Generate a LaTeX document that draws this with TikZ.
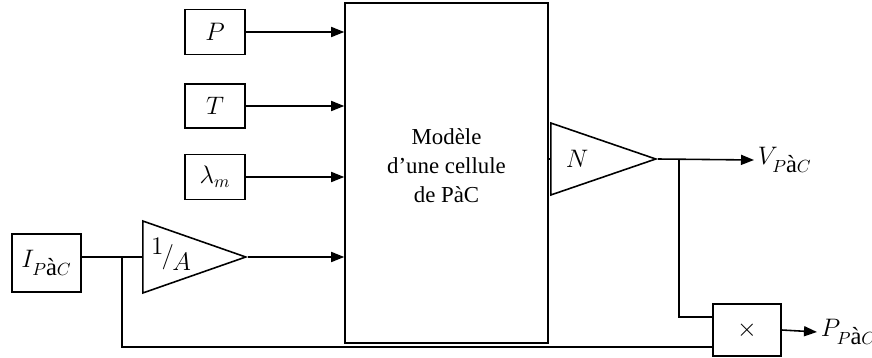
\documentclass[tikz,border=0pt]{standalone}
\usepackage{fontspec}
\setmainfont{Liberation Serif}
\usepackage{tikz}
\usetikzlibrary{arrows.meta,positioning,calc,shapes.geometric}
\tikzset{
  blk/.style={draw, line width=0.9pt, inner sep=0pt, font=\fontsize{14}{17}\selectfont},
  gain/.style={draw, line width=0.9pt, isosceles triangle, isosceles triangle stretches,
               inner sep=0pt, shape border rotate=0, anchor=west},
  lbl/.style={inner sep=2pt, font=\fontsize{14}{17}\selectfont},
  wire/.style={line width=0.9pt},
  sig/.style={line width=0.9pt, -{Triangle[length=2.6mm,width=2mm]}}
}
\newcommand{\pac}{P\textrm{\`a}C}

\begin{document}
\begin{tikzpicture}[x=0.02cm, y=-0.02cm]
  \useasboundingbox (0,0) rectangle (872,358);

  % inputs
  \node[blk, minimum width=1.2cm, minimum height=0.9cm] (P) at (215,32) {$P$};
  \node[blk, minimum width=1.2cm, minimum height=0.88cm] (T) at (215,106) {$T$};
  \node[blk, minimum width=1.2cm, minimum height=0.9cm] (lam) at (215,177) {$\lambda_m$};
  \node[blk, minimum width=1.38cm, minimum height=1.16cm] (I) at (46.5,263) {$I_{\pac}$};

  % gains and model
  \node[gain, minimum height=2.06cm, minimum width=1.44cm] (invA) at (142,257) {};
  \node[lbl] at (171,254)
    {\raisebox{5pt}{$1$}\kern-1pt$\big/$\kern-1pt\raisebox{-4pt}{$A$}};
  \node[blk, minimum width=4.06cm, minimum height=6.8cm] (cell) at (446.5,173) {};
  \node[align=center, font=\fontsize{13}{16.5}\selectfont] (txt) at (446.5,166)
    {Modèle\\d’une cellule\\de PàC};
  \node[gain, minimum height=2.1cm, minimum width=1.44cm] (gN) at (550,159) {};
  \node[lbl] at (577,159) {$N$};
  \node[blk, minimum width=1.36cm, minimum height=1.04cm] (mul) at (747,330) {$\times$};

  % outputs
  \node[lbl, anchor=west] (V) at (754,160) {$V_{\pac}$};
  \node[lbl, anchor=west] (Pw) at (817,332) {$P_{\pac}$};

  \coordinate (j1) at (122,257);
  \coordinate (j2) at (679,159);
  \coordinate (m1) at (713,317);
  \coordinate (m2) at (713,347);

  \draw[sig] (P.east) -- (P.east -| cell.west);
  \draw[sig] (T.east) -- (T.east -| cell.west);
  \draw[sig] (lam.east) -- (lam.east -| cell.west);
  \draw[wire] (I.east |- invA.west) -- (invA.west);
  \draw[sig] (invA.east) -- (invA.east -| cell.west);
  \draw[wire] (cell.east |- gN.west) -- (gN.west);
  \draw[sig] (gN.east) -- (V.west);
  \draw[wire] (j2) |- (m1);
  \draw[wire] (j1) |- (m2);
  \draw[sig] (mul.east) -- (Pw.west);
\end{tikzpicture}
\end{document}
